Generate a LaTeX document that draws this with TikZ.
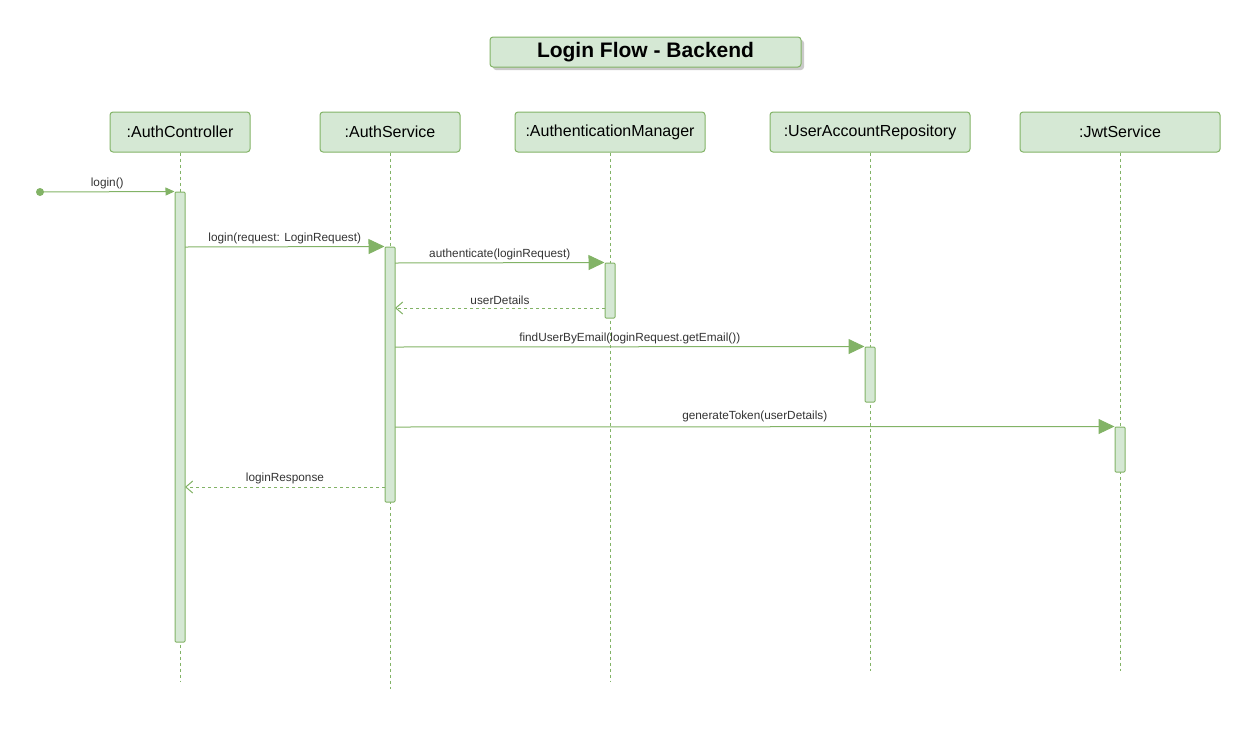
\documentclass[tikz,border=0pt]{standalone}
\usepackage{fontspec}
\setmainfont{Liberation Sans}
\usetikzlibrary{arrows.meta,shadows}
\definecolor{gfill}{HTML}{D5E8D4}
\definecolor{gline}{HTML}{82B366}
\definecolor{txt}{HTML}{333333}
\tikzset{
  every path/.style={line width=1pt},
  life/.style={draw=gline,fill=gfill,rounded corners=3pt,minimum height=40pt,inner sep=0pt,font=\fontsize{16pt}{19pt}\selectfont,text=black},
  act/.style={draw=gline,fill=gfill,rounded corners=1pt,minimum width=10pt,inner sep=0pt},
  lifeline/.style={draw=gline,dash pattern=on 3pt off 3pt},
  msg/.style={draw=gline,-{Triangle[length=16pt,width=15pt]}},
  ret/.style={draw=gline,dash pattern=on 3pt off 3pt,-{Straight Barb[length=7pt,width=12pt]}},
  lbl/.style={font=\fontsize{11.8pt}{14pt}\selectfont,text=txt,inner sep=1pt}
}
\begin{document}
\begin{tikzpicture}[x=1pt,y=-1pt]
\useasboundingbox (0,0) rectangle (1257,729);
% title
\node[draw=gline,fill=gfill,rounded corners=3pt,minimum width=311pt,minimum height=30pt,inner sep=0pt,
  font=\fontsize{21pt}{24pt}\selectfont\bfseries,
  drop shadow={shadow xshift=3pt,shadow yshift=-3pt,fill=black!35,opacity=0.6}] (title) at (645.5,52) {\raisebox{-1.5pt}{Login Flow - Backend}};
% lifeline heads
\node[life,minimum width=140pt] (ac) at (180,132) {:AuthController};
\node[life,minimum width=140pt] (as) at (390,132) {:AuthService};
\node[life,minimum width=190pt] (am) at (610,132) {:AuthenticationManager};
\node[life,minimum width=200pt] (ur) at (870,132) {:UserAccountRepository};
\node[life,minimum width=200pt] (js) at (1120,132) {:JwtService};
% lifeline ends
\coordinate (acE) at (180,682);
\coordinate (asE) at (390,689);
\coordinate (amE) at (610,682);
\coordinate (urE) at (870,671);
\coordinate (jsE) at (1120,671);
\draw[lifeline] (ac.south) -- (acE);
\draw[lifeline] (as.south) -- (asE);
\draw[lifeline] (am.south) -- (amE);
\draw[lifeline] (ur.south) -- (urE);
\draw[lifeline] (js.south) -- (jsE);
% activations
\node[act,minimum height=450pt] (acA) at (180,417) {};
\node[act,minimum height=255pt] (asA) at (390,374.5) {};
\node[act,minimum height=55pt] (amA) at (610,290.5) {};
\node[act,minimum height=55pt] (urA) at (870,374.5) {};
\node[act,minimum height=45pt] (jsA) at (1120,449.5) {};
% messages
\coordinate (start) at (40,192);
\fill[gline] (start) circle (4pt);
\draw[draw=gline,-{Triangle[length=9pt,width=8pt]}] (start) -- (acA.north west) node[lbl,midway,above=1.5pt] {login()};
\draw[msg] (185,247) -- (asA.north west) node[lbl,midway,above=1.5pt] {login(request: LoginRequest)};
\draw[msg] (395,263) -- (amA.north west) node[lbl,midway,above=1.5pt] {authenticate(loginRequest)};
\draw[ret] (605,308) -- (395,308) node[lbl,midway,above=1.5pt] {userDetails};
\draw[msg] (395,347) -- (urA.north west) node[lbl,midway,above=1.5pt] {findUserByEmail(loginRequest.getEmail())};
\draw[msg] (395,427) -- (jsA.north west) node[lbl,midway,above=3.5pt] {generateToken(userDetails)};
\draw[ret] (385,487) -- (185,487) node[lbl,midway,above=2pt] {loginResponse};
\end{tikzpicture}
\end{document}
